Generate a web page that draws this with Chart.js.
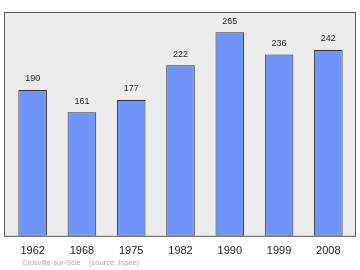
<!DOCTYPE html>
<html><head><meta charset="utf-8">
<script src="https://cdn.jsdelivr.net/npm/chart.js@4/dist/chart.umd.min.js"></script>
<style>html,body{margin:0;padding:0;background:#fff}#w{width:360px;height:270px}</style>
</head><body><div id="w"><canvas id="c" width="360" height="270"></canvas></div>
<script>
const years = ["1962","1968","1975","1982","1990","1999","2008"];
const population = [190,161,177,222,265,236,242];
const sourceText = "Crosville-sur-Scie    (source: Insee)";

const framePlugin = {
  id:'frame',
  beforeDatasetsDraw(chart){
    const {ctx, chartArea:a} = chart;
    ctx.save();
    ctx.fillStyle = '#ececec';
    ctx.fillRect(a.left-4, a.top, a.right-a.left+7, a.bottom-a.top);
    ctx.strokeStyle = '#555';
    ctx.lineWidth = 1;
    ctx.strokeRect(a.left-4+0.5, a.top+0.5, a.right-a.left+7-1, a.bottom-a.top);
    ctx.restore();
  },
  afterDatasetsDraw(chart){
    const {ctx} = chart;
    const meta = chart.getDatasetMeta(0);
    ctx.save();
    ctx.font = '9px "Liberation Sans", Arial, sans-serif';
    ctx.fillStyle = '#222';
    ctx.textAlign = 'center';
    ctx.textBaseline = 'middle';
    meta.data.forEach((b,i)=>{
      ctx.fillText(String(population[i]), b.x, b.y - 11);
    });
    ctx.font = '7.5px "Liberation Sans", Arial, sans-serif';
    ctx.fillStyle = '#aaa';
    ctx.textAlign = 'left';
    ctx.fillText(sourceText, 22, 263);
    ctx.restore();
  }
};

new Chart(document.getElementById('c'), {
  type:'bar',
  data:{labels:years, datasets:[{data:population, backgroundColor:'#6f95fb', borderColor:'#333', borderWidth:1, borderSkipped:false, barPercentage:0.58, categoryPercentage:1}]},
  options:{
    responsive:false, animation:false, devicePixelRatio:1,
    layout:{padding:{left:8, right:7, top:12, bottom:3}},
    plugins:{legend:{display:false}, tooltip:{enabled:false}},
    scales:{
      y:{display:false, min:0, max:291.5},
      x:{grid:{display:false, drawTicks:false}, border:{display:false},
         ticks:{padding:9, color:'#222', font:{size:11, family:'"Liberation Sans", Arial, sans-serif'}}}
    }
  },
  plugins:[framePlugin]
});
</script></body></html>
